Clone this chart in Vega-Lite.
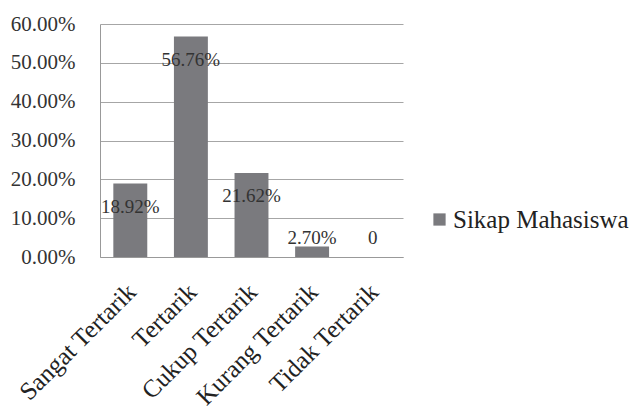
{
  "$schema": "https://vega.github.io/schema/vega-lite/v6.json",
  "autosize": "none",
  "padding": {"left": 100, "top": 24, "right": 230, "bottom": 155},
  "width": 303,
  "height": 233,
  "background": "white",
  "config": {
    "view": {"stroke": null},
    "font": "Liberation Serif"
  },
  "data": {
    "values": [
      {"kategori": "Sangat Tertarik", "nilai": 0.1892, "label": "18.92%", "seri": "Sikap Mahasiswa"},
      {"kategori": "Tertarik", "nilai": 0.5676, "label": "56.76%", "seri": "Sikap Mahasiswa"},
      {"kategori": "Cukup Tertarik", "nilai": 0.2162, "label": "21.62%", "seri": "Sikap Mahasiswa"},
      {"kategori": "Kurang Tertarik", "nilai": 0.027, "label": "2.70%", "seri": "Sikap Mahasiswa"},
      {"kategori": "Tidak Tertarik", "nilai": 0, "label": "0", "seri": "Sikap Mahasiswa"}
    ]
  },
  "transform": [
    {"calculate": "max(datum.nilai - 0.06, 0.049)", "as": "posLabel"}
  ],
  "encoding": {
    "x": {
      "field": "kategori",
      "type": "nominal",
      "sort": null,
      "title": null,
      "scale": {"paddingInner": 0.44, "paddingOuter": 0.22},
      "axis": {
        "labelAngle": -45,
        "labelFont": "Liberation Serif",
        "labelFontSize": 25,
        "labelColor": "#222222",
        "labelPadding": 22,
        "labelOffset": -7,
        "labelOverlap": false,
        "labelLimit": 300,
        "ticks": false,
        "domainColor": "#999999"
      }
    }
  },
  "layer": [
    {
      "mark": {"type": "bar", "color": "#7a7a7e"},
      "encoding": {
        "y": {
          "field": "nilai",
          "type": "quantitative",
          "title": null,
          "scale": {"domain": [0, 0.6]},
          "axis": {
            "values": [0, 0.1, 0.2, 0.3, 0.4, 0.5, 0.6],
            "format": ".2%",
            "labelFont": "Liberation Serif",
            "labelFontSize": 21,
            "labelColor": "#333333",
            "labelPadding": 25,
            "labelOverlap": false,
            "grid": true,
            "ticks": false,
            "gridColor": "#a6a6a6",
            "domainColor": "#999999"
          }
        },
        "color": {
          "field": "seri",
          "type": "nominal",
          "scale": {"range": ["#7a7a7e"]},
          "legend": {
            "title": null,
            "orient": "none",
            "legendX": 327,
            "legendY": 183,
            "symbolType": "square",
            "symbolSize": 150,
            "symbolStrokeWidth": 0,
            "labelFont": "Liberation Serif",
            "labelFontSize": 25,
            "labelLimit": 400,
            "labelColor": "#222222",
            "labelOffset": 1
          }
        }
      }
    },
    {
      "mark": {"type": "text", "baseline": "middle", "align": "center", "fontSize": 19, "color": "#333333"},
      "encoding": {
        "y": {"field": "posLabel", "type": "quantitative", "axis": null},
        "text": {"field": "label", "type": "nominal"}
      }
    }
  ],
  "resolve": {"axis": {"y": "independent"}}
}
